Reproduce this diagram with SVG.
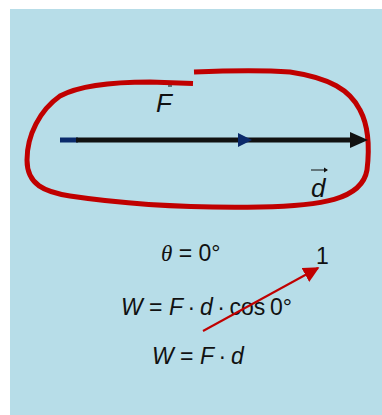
<svg xmlns="http://www.w3.org/2000/svg" width="382" height="415" viewBox="0 0 382 415">
<defs>
<style>
.t{font-family:"Liberation Sans",Arial,sans-serif;font-size:23px;fill:#111}
.i{font-style:italic}
.big{font-size:26px}
.loop{fill:none;stroke:#c00000;stroke-width:5;stroke-linecap:butt}
</style>
<marker id="rh" viewBox="0 0 10 10" refX="9" refY="5" markerWidth="16" markerHeight="16" orient="auto" markerUnits="userSpaceOnUse"><path d="M0,0 L10,5 L0,10 Z" fill="#c00000"/></marker>
</defs>
<rect width="382" height="415" fill="#ffffff"/>
<rect x="10" y="9" width="372" height="406" fill="#b7dde8"/>
<g id="loop">
<path class="loop" d="M193,83.5 L150,82 C100,82 75,88 60,96 C40,110 27,135 27,160 C27,185 45,192 70,196 C130,205 200,208 260,207 C320,206 362,200 367,170 C370,145 368,125 360,110 C350,90 330,78 290,72 C260,70 220,71 194,72"/>
</g>
<g id="arrow-d">
<line x1="60" y1="140" x2="78" y2="140" stroke="#0b2a6b" stroke-width="5"/>
<line x1="76" y1="140" x2="352" y2="140" stroke="#111" stroke-width="5"/>
<path d="M350,132 L368,140 L350,148 Z" fill="#111"/>
<path d="M238,133 L252,140 L238,147 Z" fill="#0b2a6b"/>
</g>
<g id="label-F">
<text class="t i big" x="156" y="112">F</text>
<line x1="168" y1="86" x2="172" y2="86" stroke="#111" stroke-width="1"/>
</g>
<g id="label-d">
<text class="t i big" x="311" y="197">d</text>
<line x1="311" y1="170" x2="327" y2="170" stroke="#111" stroke-width="1"/>
<path d="M324,167.5 L328,170 L324,172.5 Z" fill="#111"/>
</g>
<g id="theta"><text class="t" x="161" y="261"><tspan class="i" font-family="Liberation Serif,serif">θ</tspan> = 0°</text></g>
<g id="one"><text class="t" x="316" y="264">1</text></g>
<g id="eq1"><text class="t" x="121" y="315"><tspan class="i">W</tspan> = <tspan class="i">F</tspan>&#8201;·&#8201;<tspan class="i">d</tspan>&#8201;·&#8201;cos&#8201;0°</text></g>
<g id="eq2"><text class="t" x="152" y="364"><tspan class="i">W</tspan> = <tspan class="i">F</tspan>&#8201;·&#8201;<tspan class="i">d</tspan></text></g>
<g id="connectors">
<line x1="203" y1="331" x2="318" y2="268" stroke="#c00000" stroke-width="2" marker-end="url(#rh)"/>
</g>
</svg>
